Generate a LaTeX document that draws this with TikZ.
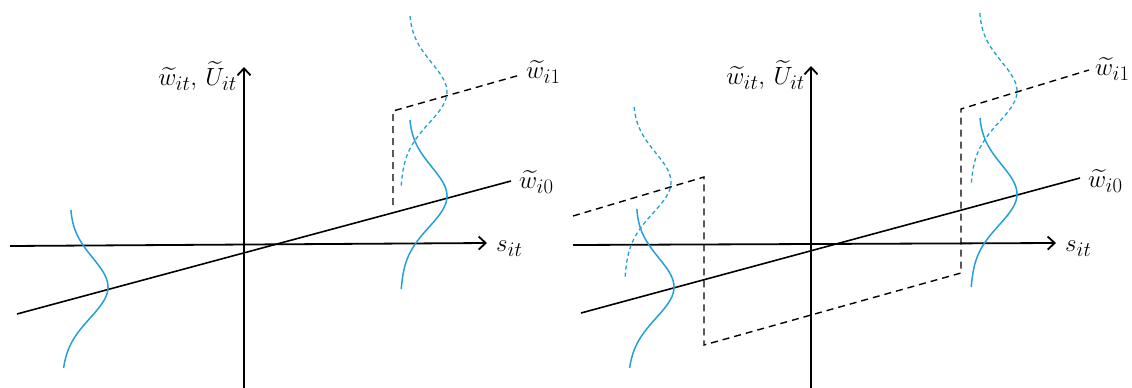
\documentclass[tikz,border=0pt]{standalone}
\usepackage{amsmath,amssymb}
\usetikzlibrary{arrows.meta,positioning}

\definecolor{densblue}{RGB}{35,160,215}

\tikzset{
  axis/.style={line width=1.8pt,-{Straight Barb[length=7pt,width=13pt,line width=1.8pt]}},
  regline/.style={line width=1.6pt},
  switchline/.style={line width=1.4pt,dash pattern=on 7pt off 5pt},
  lab/.style={inner sep=0pt,font=\fontsize{24.88}{30}\selectfont},
  dens/.style={densblue,line width=1.5pt},
  densdash/.style={densblue,line width=1.3pt,dash pattern=on 4pt off 3pt}
}

% rotated normal density, peak at (#2,#3), tail from #4 to #5
\newcommand{\denscurve}[5]{%
  \draw[#1] plot[domain=#4:#5,smooth,samples=50]
    ({#2-42-0.045*\x+42*exp(-\x*\x/1800)},{#3+\x});}

\begin{document}
\begin{tikzpicture}[x=1pt,y=-1pt]
\useasboundingbox (0,0) rectangle (1132,388);

% left panel
\begin{scope}
  \coordinate (L-xl) at (10,246);
  \coordinate (L-xr) at (487,243);
  \coordinate (L-yb) at (244,388);
  \coordinate (L-yt) at (244,67);
  \draw[axis] (L-xl) -- (L-xr);
  \draw[axis] (L-yb) -- (L-yt);
  \node[lab,anchor=west] (L-s) at (496,249) {$s_{it}$};
  \node[lab,anchor=east] (L-y) at (237,76) {$\widetilde{w}_{it},\,\widetilde{U}_{it}$};

  \coordinate (L-a) at (17,314);
  \coordinate (L-b) at (511,181);
  \draw[regline] (L-a) -- (L-b);
  \node[lab,anchor=west] (L-w0) at (519,182) {$\widetilde{w}_{i0}$};

  \coordinate (L-c) at (393,205);
  \coordinate (L-d) at (393,111);
  \coordinate (L-e) at (520,75);
  \draw[switchline] (L-c) -- (L-d) -- (L-e);
  \node[lab,anchor=west] (L-w1) at (526,72) {$\widetilde{w}_{i1}$};

  \denscurve{dens}{108}{288}{-78}{80}
  \denscurve{dens}{447}{197}{-77}{92}
  \denscurve{densdash}{447}{93}{-77}{94}
\end{scope}

% right panel
\begin{scope}[xshift=567pt]
  \coordinate (R-xl) at (6,245);
  \coordinate (R-xr) at (489,243);
  \coordinate (R-yb) at (244,388);
  \coordinate (R-yt) at (244,66);
  \draw[axis] (R-xl) -- (R-xr);
  \draw[axis] (R-yb) -- (R-yt);
  \node[lab,anchor=west] (R-s) at (498,249) {$s_{it}$};
  \node[lab,anchor=east] (R-y) at (238,75) {$\widetilde{w}_{it},\,\widetilde{U}_{it}$};

  \coordinate (R-a) at (14,313);
  \coordinate (R-b) at (513,178);
  \draw[regline] (R-a) -- (R-b);
  \node[lab,anchor=west] (R-w0) at (521,181) {$\widetilde{w}_{i0}$};

  \coordinate (R-c) at (6,216);
  \coordinate (R-d) at (137,177);
  \coordinate (R-e) at (137,345);
  \coordinate (R-f) at (394,273);
  \coordinate (R-g) at (394,109);
  \coordinate (R-h) at (522,70);
  \draw[switchline] (R-c) -- (R-d) -- (R-e) -- (R-f) -- (R-g) -- (R-h);
  \node[lab,anchor=west] (R-w1) at (528,69) {$\widetilde{w}_{i1}$};

  \denscurve{dens}{107}{288}{-79}{80}
  \denscurve{densdash}{104}{183}{-76}{94}
  \denscurve{dens}{450}{195}{-77}{92}
  \denscurve{densdash}{450}{92}{-79}{93}
\end{scope}
\end{tikzpicture}
\end{document}
